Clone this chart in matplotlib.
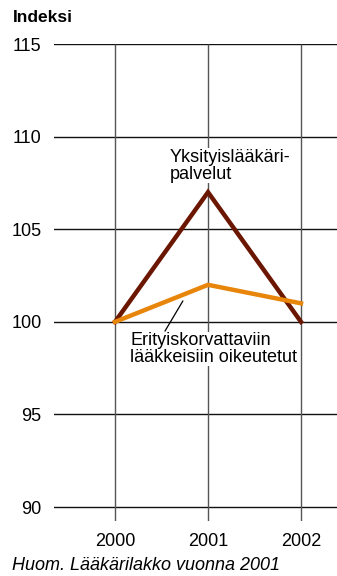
import matplotlib
matplotlib.use("Agg")
import matplotlib.pyplot as plt

plt.rcParams['font.family'] = ['Liberation Sans', 'DejaVu Sans']

years = [2000, 2001, 2002]
yksityis = [100, 107, 100]
erityis = [100, 102, 101]
yticks = [90, 95, 100, 105, 110, 115]
xtick_labels = ['2000', '2001', '2002']

W, H = 337, 576
fig = plt.figure(figsize=(W / 100, H / 100), dpi=100)

left, right, top, bottom = 54, 337, 44, 521
ax = fig.add_axes([left / W, (H - bottom) / H, (right - left) / W, (bottom - top) / H])
ax.set_xlim(1999.344, 2002.387)
ax.set_ylim(89.25, 115)
for s in ax.spines.values():
    s.set_visible(False)

# grid: horizontal at each tick, vertical per year
for y in yticks:
    ax.axhline(y, color='#111111', lw=1.0, zorder=1)
ax.vlines(years, 89.25, 115, color='#555555', lw=1.0, zorder=1)

ax.plot(years, yksityis, color='#6B1600', lw=3.2, zorder=3, solid_joinstyle='miter')
ax.plot(years, erityis, color='#E8860C', lw=3.2, zorder=3, solid_joinstyle='miter')

ax.set_yticks(yticks)
ax.set_yticklabels([str(v) for v in yticks], fontsize=13)
ax.set_xticks(years)
ax.set_xticklabels(xtick_labels, fontsize=13)
ax.tick_params(axis='y', length=0, pad=9)
ax.tick_params(axis='x', length=0, pad=9)

box = dict(facecolor='white', edgecolor='none', pad=0.3)
ax.text(2000.59, 109.35, 'Yksityislääkäri-\npalvelut', fontsize=13, va='top', ha='left',
        linespacing=1.0, zorder=4, bbox=box)
ax.text(2000.165, 99.45, 'Erityiskorvattaviin\nlääkkeisiin oikeutetut', fontsize=13,
        va='top', ha='left', linespacing=1.0, zorder=4, bbox=box)
ax.annotate('', xy=(2000.73, 101.13), xytext=(2000.537, 99.5),
            arrowprops=dict(arrowstyle='-', color='black', lw=0.9, shrinkA=0, shrinkB=0),
            zorder=5)

fig.text(13 / W, 1 - 17 / H, 'Indeksi', fontsize=12.5, fontweight='bold', va='center', ha='left')
fig.text(12 / W, 1 - 565 / H, 'Huom. Lääkärilakko vuonna 2001', fontsize=13, style='italic',
         va='center', ha='left')

fig.savefig('out.png', dpi=100)
